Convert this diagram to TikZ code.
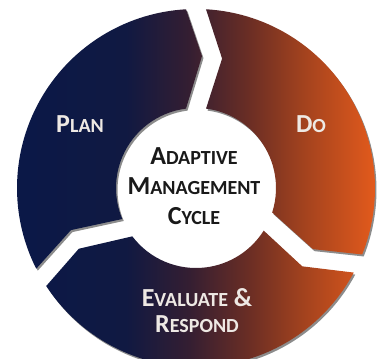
\documentclass[tikz,border=0pt]{standalone}
\usepackage{fontspec}
\setsansfont{Carlito}
\usetikzlibrary{positioning}

% ring colours, left to right
\definecolor{planblue}{RGB}{10,24,72}
\definecolor{deepblue}{RGB}{16,25,66}
\definecolor{midplum}{RGB}{52,30,50}
\definecolor{midrust}{RGB}{108,46,36}
\definecolor{burnt}{RGB}{162,66,30}
\definecolor{doorange}{RGB}{232,92,28}
\definecolor{labeltext}{RGB}{238,233,228}

\pgfdeclarehorizontalshading{cycleshade}{100bp}{color(0bp)=(planblue); color(25bp)=(planblue);
  color(40.8bp)=(deepblue); color(49.2bp)=(midplum); color(57.5bp)=(midrust);
  color(64.5bp)=(burnt); color(75bp)=(doorange); color(100bp)=(doorange)}

% small capitals by hand
\newcommand\smc[2]{{\fontsize{#1}{#1}\selectfont #2}}

\begin{document}
\begin{tikzpicture}[
    x=1pt, y=1pt,
    % Ring pieces with a chevron at each end
    cycle pieces/.style={insert path={
        \foreach \a/\b in {210/90, 90/-25, -25/-150} {
            ({\a-\wo}:\Ro) arc[start angle=\a-\wo, end angle=\b+\wo, radius=\Ro]
            -- ({\b+\wm-\tip}:\Rm) -- ({\b+\wi}:\Ri)
            arc[start angle=\b+\wi, end angle=\a-\wi, radius=\Ri]
            -- ({\a-\wm-\tip}:\Rm) -- cycle
        }}},
    % Text styles
    steplabel/.style={font=\sffamily\bfseries\fontsize{26}{26}\selectfont, text=labeltext, inner sep=0pt},
    titletext/.style={font=\sffamily\bfseries\fontsize{26}{30}\selectfont, text=black!90, inner sep=0pt, align=center}
]
    \useasboundingbox (0,0) rectangle (379,358);

    % radii and gap half-widths (degrees)
    \def\Ro{179} \def\Rm{132} \def\Ri{80}
    \def\wo{3.2} \def\wm{4.4} \def\wi{7.2} \def\tip{7}

    % === RING ===
    \begin{scope}[shift={(196,170)}]
        \fill[black, opacity=0.45, shift={(1.5,-2)}, cycle pieces];
        \shade[shading=cycleshade, cycle pieces];
    \end{scope}

    % === LABELS ===
    \node[steplabel, anchor=base] (plan) at (80,225) {P\smc{20}{LAN}};
    \node[steplabel, anchor=base] (do) at (311,225) {D\smc{20}{O}};
    \node[steplabel, align=center] (evaluate) at (197,47) {E\smc{20}{VALUATE} \&\\R\smc{20}{ESPOND}};

    % centre title
    \node[titletext] (title) at (194,172) {A\smc{20}{DAPTIVE}\\M\smc{20}{ANAGEMENT}\\C\smc{20}{YCLE}};

\end{tikzpicture}
\end{document}
